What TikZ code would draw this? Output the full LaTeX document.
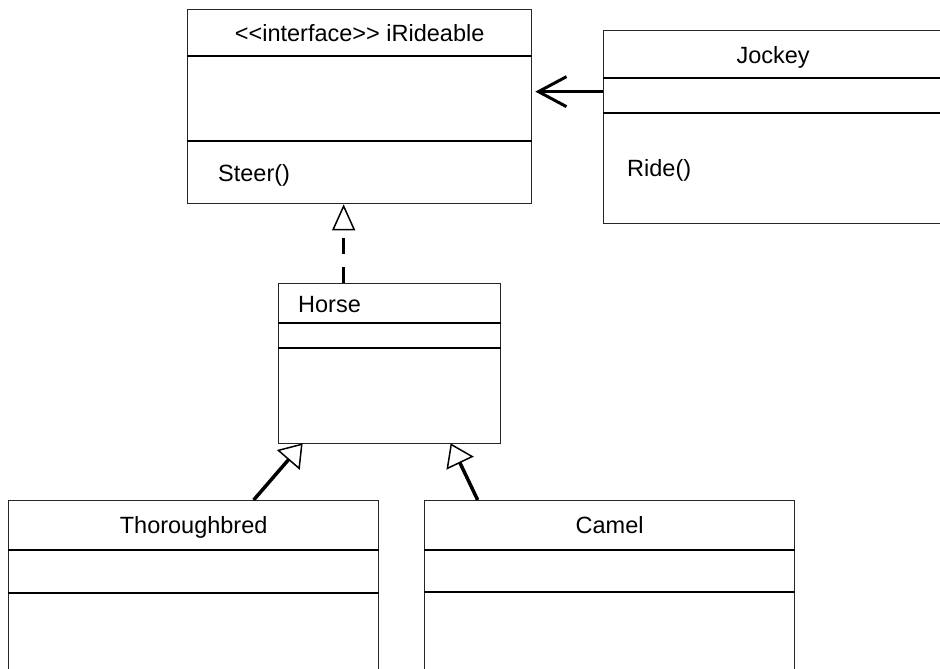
\documentclass[tikz,border=0pt]{standalone}
\usepackage{fontspec}
\setmainfont{Liberation Sans}[Ligatures=TeXOff]
\usetikzlibrary{arrows.meta}
\begin{document}
\begin{tikzpicture}[x=1pt,y=-1pt,
  classbox/.style={draw=black!85, line width=1.3pt, fill=white, inner sep=0pt, anchor=north west},
  divider/.style={draw=black, line width=2.6pt},
  lbl/.style={inner sep=0pt, font=\fontsize{23.5}{28}\selectfont},
  assoc/.style={line width=3pt, shorten >=3pt, -{Straight Barb[length=28pt,width=30pt,line width=3pt]}},
  realize/.style={line width=3pt, dash pattern=on 16pt off 13pt, -{Triangle[open,length=26pt,width=23pt,line width=1.5pt]}},
  gener/.style={line width=3.5pt, -{Triangle[open,length=22pt,width=30pt,line width=1.5pt]}}]
\useasboundingbox (0,0) rectangle (940,669);
\fill[white] (0,0) rectangle (940,669);
\clip (0,0) rectangle (940,669);

% class boxes
\node[classbox, minimum width=344pt, minimum height=194pt] (irid) at (187,9) {};
\node[classbox, minimum width=339pt, minimum height=193pt] (jockey) at (603,30) {};
\node[classbox, minimum width=222pt, minimum height=160pt] (horse) at (278,283) {};
\node[classbox, minimum width=370pt, minimum height=200pt] (thor) at (8,500) {};
\node[classbox, minimum width=370pt, minimum height=200pt] (camel) at (424,500) {};

% dividers
\draw[divider] ([yshift=-47pt]irid.north west) -- ([yshift=-47pt]irid.north east);
\draw[divider] ([yshift=-132pt]irid.north west) -- ([yshift=-132pt]irid.north east);
\draw[divider] ([yshift=-48pt]jockey.north west) -- ([yshift=-48pt]jockey.north east);
\draw[divider] ([yshift=-83pt]jockey.north west) -- ([yshift=-83pt]jockey.north east);
\draw[divider] ([yshift=-40pt]horse.north west) -- ([yshift=-40pt]horse.north east);
\draw[divider] ([yshift=-65pt]horse.north west) -- ([yshift=-65pt]horse.north east);
\draw[divider] ([yshift=-50pt]thor.north west) -- ([yshift=-50pt]thor.north east);
\draw[divider] ([yshift=-93pt]thor.north west) -- ([yshift=-93pt]thor.north east);
\draw[divider] ([yshift=-50pt]camel.north west) -- ([yshift=-50pt]camel.north east);
\draw[divider] ([yshift=-92pt]camel.north west) -- ([yshift=-92pt]camel.north east);

% labels
\node[lbl, anchor=base] (iridT) at ([yshift=-33pt]irid.north) {<<interface>> iRideable};
\node[lbl, anchor=base west] (iridM) at ([xshift=31pt,yshift=23pt]irid.south west) {Steer()};
\node[lbl, anchor=base] (jockeyT) at ([yshift=-34pt]jockey.north) {Jockey};
\node[lbl, anchor=base west] (jockeyM) at ([xshift=24pt,yshift=48pt]jockey.south west) {Ride()};
\node[lbl, anchor=base west] (horseT) at ([xshift=20pt,yshift=-29pt]horse.north west) {Horse};
\node[lbl, anchor=base] (thorT) at ([yshift=-33pt]thor.north) {Thoroughbred};
\node[lbl, anchor=base] (camelT) at ([yshift=-33pt]camel.north) {Camel};

% connectors
\draw[assoc] ([yshift=35.5pt]jockey.west) -- ([yshift=35.5pt]jockey.west -| irid.east);
\draw[realize] ([xshift=-16pt]irid.south |- horse.north) -- ([xshift=-16pt]irid.south);
\draw[gener] ([xshift=60pt]thor.north) -- ([xshift=-87pt,yshift=1pt]horse.south);
\draw[gener] ([xshift=-132pt]camel.north) -- ([xshift=61pt,yshift=1pt]horse.south);
\end{tikzpicture}
\end{document}
